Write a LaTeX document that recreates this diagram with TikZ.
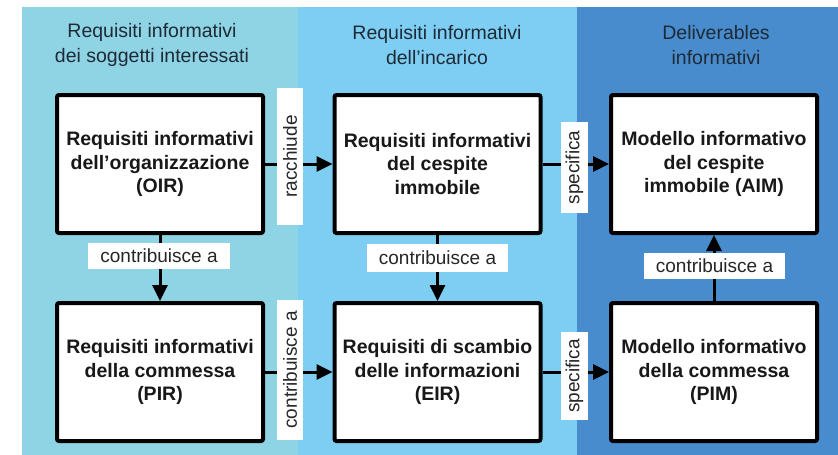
\documentclass[tikz,border=0pt]{standalone}
\usepackage{fontspec}
\setmainfont{Liberation Sans}
\usetikzlibrary{arrows.meta}
\definecolor{colA}{RGB}{143,212,228}
\definecolor{colB}{RGB}{126,206,244}
\definecolor{colC}{RGB}{72,140,205}
\definecolor{hdrcol}{RGB}{30,42,54}
\definecolor{boxtext}{RGB}{24,24,24}
\begin{document}
\begin{tikzpicture}[x=1pt,y=-1pt,
  box/.style={draw=black, line width=4pt, fill=white, rounded corners=2pt,
    minimum width=206pt, minimum height=138pt, align=center, inner sep=0pt,
    font=\fontsize{19.5}{23.5}\selectfont\bfseries, text=boxtext},
  hdr/.style={align=center, font=\fontsize{19.5}{25}\selectfont, text=hdrcol},
  lbl/.style={fill=white, inner sep=0pt, font=\fontsize{19}{22}\selectfont, text=black!85},
  conn/.style={line width=3pt, -{Triangle[length=16pt,width=15pt]}}]
\useasboundingbox (0,0) rectangle (838,455);
% columns
\fill[colA] (22,7) rectangle (298,455);
\fill[colB] (298,7) rectangle (577,455);
\fill[colC] (577,7) rectangle (838,455);
% headers
\node[hdr] (h1) at (152,45) {Requisiti informativi\\dei soggetti interessati};
\node[hdr] (h2) at (437,45) {Requisiti informativi\\dell’incarico};
\node[hdr] (h3) at (716,45) {Deliverables\\informativi};
% boxes
\node[box] (oir) at (160,164) {Requisiti informativi\\dell’organizzazione\\(OIR)};
\node[box] (pir) at (160,372) {Requisiti informativi\\della commessa\\(PIR)};
\node[box] (cesp) at (437.5,164) {Requisiti informativi\\del cespite\\immobile};
\node[box] (eir) at (437.5,372) {Requisiti di scambio\\delle informazioni\\(EIR)};
\node[box] (aim) at (714,164) {Modello informativo\\del cespite\\immobile (AIM)};
\node[box] (pim) at (714,372) {Modello informativo\\della commessa\\(PIM)};
% connectors
\draw[conn] (oir) -- (cesp);
\draw[conn] (oir) -- (pir);
\draw[conn] (pir) -- (eir);
\draw[conn] (cesp) -- (eir);
\draw[conn] (cesp) -- (aim);
\draw[conn] (eir) -- (pim);
\draw[conn] (pim) -- (aim);
% labels
\node[lbl, minimum width=142pt, minimum height=26pt] (l1) at (159,255.5) {contribuisce a};
\node[lbl, minimum width=141pt, minimum height=28pt] (l2) at (437.5,257.5) {contribuisce a};
\node[lbl, minimum width=141pt, minimum height=26pt] (l3) at (714.5,266) {contribuisce a};
\node[lbl, rotate=90, minimum width=137pt, minimum height=26pt] (l4) at (290,156.5) {racchiude};
\node[lbl, rotate=90, minimum width=140pt, minimum height=26pt] (l5) at (290,370) {contribuisce a};
\node[lbl, rotate=90, minimum width=91pt, minimum height=27pt] (l6) at (574.5,167.5) {specifica};
\node[lbl, rotate=90, minimum width=88pt, minimum height=27pt] (l7) at (574.5,376) {specifica};
\end{tikzpicture}
\end{document}
